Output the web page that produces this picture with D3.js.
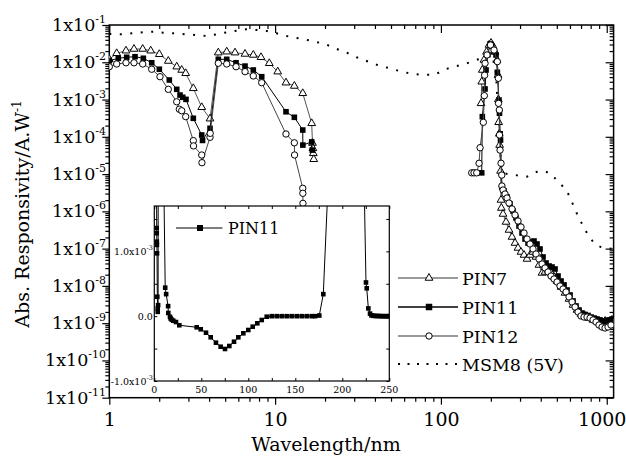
<!DOCTYPE html>
<html><head><meta charset="utf-8">
<script src="https://cdn.jsdelivr.net/npm/d3@7/dist/d3.min.js"></script>
<style>body{margin:0;background:#fff}</style>
</head><body>
<svg id="c" width="626" height="457"></svg>
<script>
// ---- data: [wavelength nm, responsivity A/W]; null = gap ----
const pin7 = [[1.0,1.20e-2],[1.108,1.74e-2],[1.261,2.04e-2],[1.409,2.27e-2],[1.590,2.27e-2],[1.777,2.04e-2],[2.003,1.64e-2],[2.269,1.08e-2],[2.551,7.6e-3],[2.734,6.2e-3],[2.889,5.06e-3],[3.211,2.0e-3],[3.609,6.2e-4],[4.050,3.06e-4],[4.544,1.81e-2],[5.107,1.92e-2],[5.731,1.81e-2],[6.585,1.67e-2],[7.387,1.57e-2],[8.222,1.36e-2],[9.226,9.4e-3],[10.37,5.6e-3],[11.63,2.83e-3],[13.06,2.31e-3],[14.68,1.47e-3],[16.62,2.3e-4],[16.8,6.8e-5],[16.9,4.9e-5],[17.0,3.6e-5],[17.1,2.5e-5],
 [40,null],
 [174.6,7.9e-4],[176.3,3.0e-3],[177.7,6.2e-3],[181.9,1.15e-2],[188.3,1.89e-2],[195.1,2.9e-2],[200.6,3.29e-2],[206.2,2.73e-2],[212,1.89e-2],[218,1.15e-2],[221,4.55e-3],[222,1.0e-3],[223,2.45e-4],[225,1.2e-4],[226,6.0e-5],[229,1.21e-5],[230.4,2.02e-6],[231.5,1.23e-6],
 [236.9,8.49e-7],[247.0,5.18e-7],[257.4,3.16e-7],[268.4,2.05e-7],[279.8,1.41e-7],[291.7,1.04e-7],[304.1,8.11e-8],[317.1,6.74e-8],[330.6,5.27e-8],[344.6,6.74e-8],[359.3,8.11e-8],[374.6,5.96e-8],[390.5,3.63e-8],[407.2,2.22e-8],[424.5,2.36e-8],[442.6,2.67e-8],[461.5,2.22e-8],[481.0,1.73e-8],[501.5,1.35e-8],[530.2,9.34e-9],[560.5,6.45e-9],[592.5,4.45e-9],[626.3,3.07e-9],[662.1,2.25e-9],[699.8,1.76e-9],[739.8,1.56e-9],[782.0,1.37e-9],[826.8,1.22e-9],[873.9,1.14e-9],[923.8,1.07e-9],[976.6,1.14e-9],[1032,1.07e-9],[1076,1.22e-9]];

const pin11 = [[1.0,1.1e-2],[1.133,1.28e-2],[1.273,1.36e-2],[1.429,1.41e-2],[1.604,1.28e-2],[1.802,9.7e-3],[2.003,6.5e-3],[2.301,3.34e-3],[2.551,1.88e-3],[2.670,1.32e-3],[2.772,1.15e-3],[2.901,1.01e-3],[3.211,3.14e-4],[3.609,1.12e-4],[3.65,8.0e-5],[4.050,1.69e-4],[4.544,1.20e-2],[5.107,1.20e-2],[5.812,9.7e-3],[6.585,7.9e-3],[7.387,6.2e-3],[8.302,4.1e-3],[11.63,4.7e-4],[13.06,3.34e-4],[14.68,1.52e-4],[14.7,6.0e-5],[16.62,7.3e-5],[16.75,4.4e-5],
 [40,null],
 [176.2,1.08e-5],[177.7,3.47e-4],[184.5,1.92e-3],[187.1,6.2e-3],[192,1.6e-2],[197.8,3.09e-2],[203,2.7e-2],[209,2.0e-2],[214.9,1.57e-2],[218.9,5.38e-3],[224,9.7e-4],[225.5,4.3e-4],[227.7,1.2e-4],[228.8,8.2e-5],
 [232.7,4.50e-6],[240.2,3.52e-6],[250.4,2.43e-6],[261.0,1.58e-6],[272.2,1.02e-6],[283.8,6.63e-7],[295.8,4.04e-7],[308.4,2.62e-7],[321.5,1.81e-7],[335.2,1.41e-7],[349.4,1.51e-7],[364.3,1.60e-7],[379.8,1.33e-7],[396.0,9.77e-8],[412.9,5.96e-8],[430.5,4.11e-8],[448.8,3.42e-8],[467.9,3.21e-8],[487.8,2.84e-8],[508.5,1.84e-8],[530.2,1.35e-8],[552.8,1.06e-8],[576.3,7.76e-9],[600.8,5.70e-9],[626.3,3.94e-9],[652.9,2.89e-9],[680.7,2.25e-9],[709.6,1.87e-9],[739.8,1.71e-9],[771.3,1.61e-9],[804.1,1.46e-9],[838.3,1.37e-9],[873.9,1.29e-9],[911.1,1.22e-9],[950.0,1.14e-9],[990.4,1.14e-9],[1032,1.22e-9],[1076,1.29e-9]];

const pin12 = [[1.0,7.6e-3],[1.108,9.0e-3],[1.261,9.7e-3],[1.409,9.7e-3],[1.590,9.0e-3],[1.802,6.5e-3],[2.022,4.1e-3],[2.269,1.88e-3],[2.551,8.7e-4],[2.644,5.5e-4],[2.734,5.0e-4],[2.889,3.47e-4],[3.211,7.9e-5],[3.22,5.7e-5],[3.609,3.25e-5],[3.62,2.02e-5],[4.050,9.7e-5],[4.06,1.24e-4],[4.544,9.4e-3],[5.107,9.0e-3],[5.812,7.6e-3],[6.585,5.6e-3],[7.387,4.3e-3],[8.302,2.83e-3],[11.63,1.19e-4],[13.06,6.9e-5],[13.1,3.25e-5],[14.68,4.15e-6],[14.7,3.05e-6],[14.72,1.64e-6],[14.9,3.0e-7],
 [40,null],
 [153.4,1.08e-5],[158.4,1.08e-5],[164.4,1.08e-5],[169.8,1.95e-5],[172.2,5.1e-5],[180.2,2.45e-4],[182.7,1.27e-3],[183.5,4.5e-3],[184.5,9.4e-3],[189.7,1.57e-2],[199,2.9e-2],[209,2.13e-2],[218.9,1.04e-2],[222,3.72e-3],[222.5,7.9e-4],[225,5.25e-4],[225.5,1.12e-4],[227.3,4.4e-5],[230.4,1.95e-5],[232.7,9.4e-6],
 [233.2,4.79e-6],[236.9,3.74e-6],[243.6,2.92e-6],[250.4,2.28e-6],[257.4,1.67e-6],[268.4,1.16e-6],[279.8,7.98e-7],[291.7,5.51e-7],[304.1,3.80e-7],[317.1,2.62e-7],[330.6,1.81e-7],[344.6,1.33e-7],[359.3,9.77e-8],[374.6,7.17e-8],[390.5,5.27e-8],[407.2,3.87e-8],[424.5,3.02e-8],[442.6,2.36e-8],[461.5,1.84e-8],[481.0,1.53e-8],[501.5,1.27e-8],[522.8,9.93e-9],[545.1,8.25e-9],[568.3,6.86e-9],[592.5,5.03e-9],[617.7,3.70e-9],[643.9,2.71e-9],[671.3,1.99e-9],[699.8,1.56e-9],[729.6,1.46e-9],[760.6,1.46e-9],[793.1,1.37e-9],[826.8,1.22e-9],[861.9,1.07e-9],[898.4,8.92e-10],[936.6,7.89e-10],[976.6,7.42e-10],[1018,7.89e-10],[1061,8.92e-10]];

const msm8 = [[1.0,5.74e-2],[1.16,5.62e-2],[1.365,5.98e-2],[1.604,6.37e-2],[1.843,6.61e-2],[2.117,6.21e-2],[2.432,5.98e-2],[2.861,5.62e-2],[3.366,5.39e-2],[3.869,5.07e-2],[4.444,5.62e-2],[5.107,6.37e-2],[5.868,7.03e-2],[6.742,7.67e-2],[7.745,7.35e-2],[8.897,6.90e-2],[10.22,5.98e-2],[11.75,5.07e-2],[13.80,4.40e-2],[16.24,3.84e-2],[20.0,3.09e-2],[22.98,2.37e-2],[27.04,1.81e-2],[31.06,1.36e-2],[36.49,1.04e-2],[42.94,7.94e-3],[49.32,6.89e-3],[58.0,5.58e-3],[68.2,4.84e-3],[78.3,4.64e-3],[92.1,4.64e-3],[105.9,6.47e-3],[124.6,7.94e-3],[143.1,9.38e-3],[168.1,1.20e-2],[192.4,1.57e-2],[205,1.4e-2],[215,5e-3],[222,3e-4],[230,2e-5],[237.9,1.05e-5],[279.8,9.44e-6],[330.6,8.51e-6],[387.9,1.21e-5],[451.9,1.10e-5],[510.7,6.25e-6],[574,3.62e-6],[615,1.82e-6],[659.4,8.87e-7],[706.6,4.78e-7],[771.3,2.32e-7],[850.4,1.29e-7],[923.8,1.10e-7],[1000,1.02e-7],[1092,9.8e-8]];

// inset: PIN11 on linear axes
const insetPin11 = [[1.0,1.1e-2],[2.3,3.34e-3],[2.55,1.36e-3],[2.6,1.28e-3],[2.7,1.15e-3],[2.77,1.10e-3],[2.9,9.7e-4],[3.21,3.0e-4],[3.61,1.2e-4],[3.65,6.7e-5],[4.05,1.7e-4],[4.54,1.2e-2],[8.3,4.1e-3],[11.6,4.4e-4],[12.6,3.4e-4],[14.7,1.55e-4],[14.9,5.0e-5],[16.7,-1.0e-5],[17.4,-3.6e-5],[18.6,-5.5e-5],[20.2,-7.0e-5],[23.1,-9.0e-5],[26.6,-1.4e-4],[45.1,-1.71e-4],[49.4,-2.02e-4],[55.0,-2.55e-4],[60.0,-3.26e-4],[65.6,-4.09e-4],[70.6,-4.71e-4],[75.2,-5.06e-4],[79.8,-4.6e-4],[84.8,-3.94e-4],[89.4,-3.26e-4],[94.7,-2.64e-4],[100.0,-2.13e-4],[104.7,-1.62e-4],[109.6,-1.10e-4],[114.3,-5.9e-5],[119.6,-8e-6],[124.9,0],[130.2,0],[135.5,0],[140.8,0],[146.1,0],[151.5,0],[156.8,0],[162.1,0],[167.4,0],[171.0,0],[175.5,1.0e-5],[179.8,3.4e-4],[184.5,1.92e-3],[197.8,3.09e-2],[218.9,5.38e-3],[225.2,5.2e-4],[226.0,4.3e-4],[227.7,1.2e-4],[229.5,4.0e-5],[231,1.2e-5],[233,6e-6],[235,4e-6],[237,3e-6],[239,2e-6],[241,1e-6],[243,0],[245,0],[247,0],[249,0],[250,0]];

const xMajorTicks = [1,10,100,1000];
const yMajorExps = [-11,-10,-9,-8,-7,-6,-5,-4,-3,-2,-1];
const insetXTicks = [0,50,100,150,200,250];
const insetYTicks = [-1e-3,0,1e-3];
const insetYLabels = [["-1.0x10","-3"],["0.0",""],["1.0x10","-3"]];
const legendNames = ["PIN7","PIN11","PIN12","MSM8 (5V)"];

const FONT = "DejaVu Serif";

// ---- layout ----
const svg = d3.select("#c");
const L=109.3, R=613.6, T=25, B=397.7;
const x = d3.scaleLog().domain([1,1100]).range([L,R]);
const y = d3.scaleLog().domain([1e-11,1e-1]).range([B,T]);

const minorX = [];
[1,10,100,1000].forEach(d=>{for(let k=2;k<=9;k++){const v=k*d; if(v<=1100) minorX.push(v);}});
const minorY = [];
yMajorExps.slice(0,-1).forEach(e=>{for(let k=2;k<=9;k++) minorY.push(k*Math.pow(10,e));});

const defs = svg.append("defs");
defs.append("clipPath").attr("id","pc").append("rect")
  .attr("x",L).attr("y",T).attr("width",R-L).attr("height",B-T);

function axisG(tr){ return svg.append("g").attr("transform",tr); }
function clean(g){ g.select(".domain").remove(); g.selectAll("line").attr("stroke","#000").attr("stroke-width",1.2); g.attr("font-family",null); return g; }

// bottom (outward)
clean(axisG(`translate(0,${B})`).call(d3.axisBottom(x).tickValues(minorX).tickSize(4).tickFormat("")));
const gb = clean(axisG(`translate(0,${B})`).call(d3.axisBottom(x).tickValues(xMajorTicks).tickSize(7).tickPadding(6).tickFormat(d3.format("d"))));
gb.selectAll("text").attr("font-size",19).attr("dy","0.78em").attr("dx",d=>d===1000?-5:0);
// top (inward)
clean(axisG(`translate(0,${T})`).call(d3.axisBottom(x).tickValues(minorX).tickSize(4).tickFormat("")));
clean(axisG(`translate(0,${T})`).call(d3.axisBottom(x).tickValues(xMajorTicks).tickSize(8).tickFormat("")));
// left (outward)
clean(axisG(`translate(${L},0)`).call(d3.axisLeft(y).tickValues(minorY).tickSize(4).tickFormat("")));
clean(axisG(`translate(${L},0)`).call(d3.axisLeft(y).tickValues(yMajorExps.map(e=>Math.pow(10,e))).tickSize(7).tickFormat("")));
// right (inward)
clean(axisG(`translate(${R},0)`).call(d3.axisLeft(y).tickValues(minorY).tickSize(4).tickFormat("")));
clean(axisG(`translate(${R},0)`).call(d3.axisLeft(y).tickValues(yMajorExps.map(e=>Math.pow(10,e))).tickSize(8).tickFormat("")));

// y tick labels with superscripts
yMajorExps.forEach(e=>{
  const t = svg.append("text").attr("x",106).attr("y",y(Math.pow(10,e))+6)
    .attr("text-anchor","end").attr("font-size",17.5);
  t.append("tspan").text("1x10");
  t.append("tspan").attr("dy",-8).attr("font-size",11).text(String(e));
});

// frame
svg.append("rect").attr("x",L).attr("y",T).attr("width",R-L).attr("height",B-T)
  .attr("fill","none").attr("stroke","#000").attr("stroke-width",1.5);

// titles
svg.append("text").attr("x",326).attr("y",451).attr("text-anchor","middle").attr("font-size",19).text("Wavelength/nm");
const yt = svg.append("text").attr("transform","translate(29,214) rotate(-90)").attr("text-anchor","middle").attr("font-size",19);
yt.append("tspan").text("Abs. Responsivity/A.W");
yt.append("tspan").attr("dy",-8).attr("font-size",12).text("-1");

// ---- series ----
const plot = svg.append("g").attr("clip-path","url(#pc)");
const line = d3.line().defined(d=>d[1]!=null && d[1]>0).x(d=>x(d[0])).y(d=>y(d[1]));
const valid = arr => arr.filter(d=>d[1]!=null && d[1]>0);

plot.append("path").datum(msm8).attr("d",line).attr("fill","none").attr("stroke","#000")
  .attr("stroke-width",2).attr("stroke-dasharray","2,8.5");

const tri = d3.symbol().type(d3.symbolTriangle).size(26);
function drawTri(g, data, px, py){
  g.selectAll(null).data(data).join("path").attr("d",tri)
    .attr("transform",d=>`translate(${px(d)},${py(d)})`)
    .attr("fill","#fff").attr("stroke","#000").attr("stroke-width",1);
}
function drawSq(g, data, px, py, s){
  g.selectAll(null).data(data).join("rect").attr("x",d=>px(d)-s/2).attr("y",d=>py(d)-s/2)
    .attr("width",s).attr("height",s).attr("fill","#000");
}
function drawCirc(g, data, px, py){
  g.selectAll(null).data(data).join("circle").attr("cx",px).attr("cy",py).attr("r",3.2)
    .attr("fill","#fff").attr("stroke","#000").attr("stroke-width",1);
}
const PX = d=>x(d[0]), PY = d=>y(d[1]);

plot.append("path").datum(pin7).attr("d",line).attr("fill","none").attr("stroke","#555").attr("stroke-width",1);
drawTri(plot.append("g"), valid(pin7), PX, PY);
plot.append("path").datum(pin11).attr("d",line).attr("fill","none").attr("stroke","#000").attr("stroke-width",1);
drawSq(plot.append("g"), valid(pin11), PX, PY, 5.6);
plot.append("path").datum(pin12).attr("d",line).attr("fill","none").attr("stroke","#444").attr("stroke-width",1);
drawCirc(plot.append("g"), valid(pin12), PX, PY);

// ---- legend ----
const legY = [278,307,336,364];
const lg = svg.append("g");
legendNames.forEach((n,i)=>{
  const yy = legY[i];
  const ln = lg.append("line").attr("x1",398).attr("x2",458).attr("y1",yy).attr("y2",yy);
  if(i===3) ln.attr("stroke","#000").attr("stroke-width",2).attr("stroke-dasharray","2,7.5");
  else ln.attr("stroke", i===1 ? "#000" : "#777").attr("stroke-width",1.3);
  const pt=[[0,0]], fx=()=>429, fy=()=>yy;
  if(i===0) drawTri(lg.append("g"), pt, fx, fy);
  if(i===1) drawSq(lg.append("g"), pt, fx, fy, 6.5);
  if(i===2) drawCirc(lg.append("g"), pt, fx, fy);
  lg.append("text").attr("x",462).attr("y",yy+6.5).attr("font-size",17.5).text(n);
});

// ---- inset ----
const IL=154.3, IR=389.3, IT=206, IB=381;
const ix = d3.scaleLinear().domain([0,250]).range([IL,IR]);
const iy = d3.scaleLinear().domain([-1e-3,1.7e-3]).range([IB,IT]);
svg.append("rect").attr("x",IL).attr("y",IT).attr("width",IR-IL).attr("height",IB-IT).attr("fill","#fff");
defs.append("clipPath").attr("id","ic").append("rect")
  .attr("x",IL).attr("y",IT).attr("width",IR-IL).attr("height",IB-IT);
const ip = svg.append("g").attr("clip-path","url(#ic)");
ip.append("path").datum(insetPin11).attr("d",d3.line().x(d=>ix(d[0])).y(d=>iy(d[1])))
  .attr("fill","none").attr("stroke","#000").attr("stroke-width",1);
drawSq(ip.append("g"), insetPin11, d=>ix(d[0]), d=>iy(d[1]), 4.6);

const iMinorX = d3.range(0,251,25), iMinorY = d3.range(-1e-3,1.6e-3,5e-4);
function iclean(g){ g.select(".domain").remove(); g.selectAll("line").attr("stroke","#000").attr("stroke-width",1); return g; }
iclean(axisG(`translate(0,${IB})`).call(d3.axisTop(ix).tickValues(iMinorX).tickSize(3).tickFormat("")));
iclean(axisG(`translate(0,${IT})`).call(d3.axisBottom(ix).tickValues(iMinorX).tickSize(3).tickFormat("")));
iclean(axisG(`translate(${IL},0)`).call(d3.axisRight(iy).tickValues(iMinorY).tickSize(3).tickFormat("")));
iclean(axisG(`translate(${IR},0)`).call(d3.axisLeft(iy).tickValues(iMinorY).tickSize(3).tickFormat("")));
svg.append("rect").attr("x",IL).attr("y",IT).attr("width",IR-IL).attr("height",IB-IT)
  .attr("fill","none").attr("stroke","#000").attr("stroke-width",1.2);
insetXTicks.forEach(v=>{
  svg.append("text").attr("x",ix(v)).attr("y",IB+11.5).attr("text-anchor","middle").attr("font-size",9.5).text(v);
});
insetYTicks.forEach((v,i)=>{
  const t = svg.append("text").attr("x",IL-1.5).attr("y",iy(v)+3.5).attr("text-anchor","end").attr("font-size",9.5);
  t.append("tspan").text(insetYLabels[i][0]);
  if(insetYLabels[i][1]) t.append("tspan").attr("dy",-5).attr("font-size",6.5).text(insetYLabels[i][1]);
});
// inset legend
svg.append("line").attr("x1",176).attr("x2",222.5).attr("y1",228).attr("y2",228).attr("stroke","#000").attr("stroke-width",1);
drawSq(svg.append("g"), [[0,0]], ()=>200, ()=>228, 6);
svg.append("text").attr("x",228).attr("y",234).attr("font-size",16).text("PIN11");

// font on every text and tspan
svg.selectAll("text, tspan").attr("font-family",FONT).attr("fill","#000");
</script>
</body></html>
